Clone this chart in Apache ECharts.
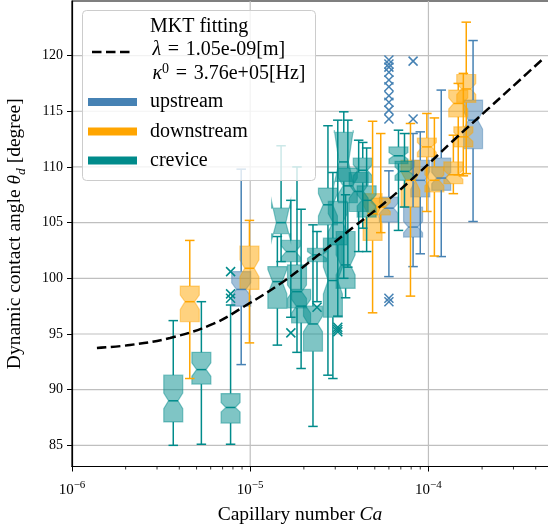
<!DOCTYPE html>
<html><head><meta charset="utf-8">
<script src="https://cdn.jsdelivr.net/npm/echarts@6/dist/echarts.min.js"></script>
<style>html,body{margin:0;padding:0;background:#fff}#c{width:548px;height:528px}</style>
</head><body><div id="c"></div>
<script>
// rows: [Ca, whiskerLow, q1, notchLow, median, notchHigh, q3, whiskerHigh]
const upstream = [
  [8.9e-6, 92.25, 97.5, 98.4, 99.0, 99.6, 100.6, 109.8],
  [6.0e-5, 100.15, 105.05, 105.8, 106.3, 106.8, 107.3, 109.65],
  [8.2e-5, 101.05, 103.7, 104.1, 104.6, 105.1, 106.4, 113.0],
  [9.0e-5, 102.2, 107.3, 108.0, 108.8, 109.6, 110.6, 113.15],
  [1.18e-4, 101.95, 107.9, 108.5, 109.0, 109.5, 110.8, 116.9],
  [1.78e-4, 105.1, 111.65, 113.4, 114.2, 115.0, 116.0, 121.35]
];
const downstream = [
  [4.58e-6, 91.0, 96.1, 97.2, 97.9, 98.5, 99.3, 103.4],
  [9.9e-6, 94.2, 99.0, 100.15, 100.9, 101.65, 102.9, 105.2],
  [4.86e-5, 96.9, 103.4, 104.9, 105.8, 106.6, 107.6, 114.1],
  [5.4e-5, 104.1, 105.7, 106.0, 106.4, 106.8, 107.2, 113.0],
  [7.93e-5, 98.4, 106.4, 107.9, 108.8, 109.6, 110.6, 113.9],
  [9.8e-5, 106.0, 110.9, 111.3, 111.8, 112.2, 112.6, 114.8],
  [1.08e-4, 102.0, 107.75, 108.3, 108.8, 109.3, 110.0, 114.4],
  [1.38e-4, 107.6, 108.5, 108.9, 109.3, 109.7, 110.45, 112.85],
  [1.47e-4, 109.3, 114.5, 115.2, 115.7, 116.2, 116.9, 117.5],
  [1.57e-4, 109.2, 111.8, 112.3, 112.7, 113.1, 113.6, 118.4],
  [1.63e-4, 109.4, 115.8, 116.5, 117.0, 117.5, 118.3, 123.0]
];
const crevice = [
  [3.70e-6, 85.0, 87.1, 88.3, 89.0, 89.7, 91.3, 96.2],
  [5.32e-6, 85.1, 90.5, 91.2, 91.8, 92.4, 93.35, 97.9],
  [7.76e-6, 85.1, 87.0, 88.0, 88.4, 88.85, 89.65, 97.6],
  [1.42e-5, 94.0, 97.3, 98.6, 99.7, 100.8, 101.05, 103.75],
  [1.49e-5, 101.5, 104.0, 103.4, 105.0, 106.9, 106.3, 111.9],
  [1.69e-5, 96.5, 101.5, 101.9, 102.4, 102.9, 103.4, 107.0],
  [1.83e-5, 93.35, 97.35, 98.2, 98.8, 99.4, 101.2, 110.0],
  [1.93e-5, 91.9, 96.0, 96.9, 97.5, 98.1, 99.0, 106.2],
  [2.25e-5, 86.7, 93.45, 95.2, 95.9, 96.6, 97.5, 104.8],
  [2.37e-5, 97.9, 101.5, 101.8, 102.1, 102.4, 102.7, 104.2],
  [2.73e-5, 91.3, 104.8, 105.6, 106.6, 107.6, 108.1, 113.7],
  [2.91e-5, 91.0, 96.5, 98.6, 99.8, 101.0, 103.6, 109.5],
  [3.10e-5, 96.6, 103.0, 104.2, 105.0, 105.8, 106.9, 114.2],
  [3.35e-5, 100.0, 108.7, 108.5, 110.45, 113.3, 113.1, 114.95],
  [3.43e-5, 98.25, 99.1, 100.3, 101.2, 102.1, 104.2, 107.5],
  [3.53e-5, 101.0, 106.8, 107.6, 108.3, 109.0, 109.9, 114.2],
  [4.06e-5, 102.4, 106.0, 107.2, 107.8, 108.4, 109.5, 112.4],
  [4.28e-5, 104.5, 108.6, 109.2, 109.7, 110.2, 110.8, 112.2],
  [4.50e-5, 102.4, 105.5, 106.5, 107.0, 107.5, 108.3, 111.7],
  [6.79e-5, 104.3, 110.3, 110.7, 111.0, 111.3, 111.8, 113.3],
  [7.34e-5, 106.4, 108.8, 109.2, 109.6, 110.0, 110.5, 113.0]
];
const upstreamOutliers = [
  [6.0e-5, 119.6], [6.0e-5, 119.25], [6.0e-5, 118.96], [6.0e-5, 118.5], [6.0e-5, 117.8],
  [6.0e-5, 117.2], [6.0e-5, 116.4], [6.0e-5, 115.8], [6.0e-5, 115.1], [6.0e-5, 114.3],
  [6.0e-5, 98.2], [6.0e-5, 97.9], [8.2e-5, 119.5], [8.2e-5, 114.3]
];
const downstreamOutliers = [];
const creviceOutliers = [
  [7.76e-6, 100.6], [7.76e-6, 98.6], [7.76e-6, 98.2], [1.69e-5, 95.1],
  [2.37e-5, 97.4], [3.10e-5, 95.4], [3.10e-5, 95.6], [3.10e-5, 95.2]
];
const fitCa = [1.38e-6, 2.115e-6, 3.55e-6, 6.18e-6, 9.33e-6, 1.525e-5, 2.46e-5, 3.77e-5, 5.85e-5, 8.95e-5, 1.37e-4, 2.13e-4, 3.26e-4, 4.39e-4];
const fitTheta = [93.74, 94.01, 94.64, 95.90, 97.51, 99.67, 102.2, 104.56, 106.94, 109.55, 112.33, 115.12, 117.81, 119.7];
const xMinorTicks = [2e-6,3e-6,4e-6,5e-6,6e-6,7e-6,8e-6,9e-6,2e-5,3e-5,4e-5,5e-5,6e-5,7e-5,8e-5,9e-5,2e-4,3e-4,4e-4];
const xGridTicks = [1e-5, 1e-4];
const yTicks = [85, 90, 95, 100, 105, 110, 115, 120];

const X_MIN = 1e-6, X_MAX = 5e-4, Y_MIN = 83.1, Y_MAX = 124.9;
const COL = {up: '#4682b4', down: '#ffa500', crev: '#008b8b'};
const FONT = "'Liberation Serif', 'DejaVu Serif', serif";
const HW = 9.5;
const SP = '\u2004';

function rgba(hex, a) {
  const n = parseInt(hex.slice(1), 16);
  return 'rgba(' + (n >> 16) + ',' + ((n >> 8) & 255) + ',' + (n & 255) + ',' + a + ')';
}
function vals(api) {
  const ca = api.value(0);
  const yy = i => api.coord([ca, api.value(i)])[1];
  return {cx: api.coord([ca, api.value(4)])[0], lo: yy(1), q1: yy(2), nlo: yy(3), med: yy(4), nhi: yy(5), q3: yy(6), hi: yy(7)};
}
function boxSeries(data, color, z) {
  return {
    type: 'custom', data: data, z: z, silent: true, clip: false,
    encode: {x: 0, y: 4},
    renderItem: function (params, api) {
      const v = vals(api), cx = v.cx;
      const pts = [[cx - HW, v.q1], [cx + HW, v.q1], [cx + HW, v.nlo], [cx + HW / 2, v.med], [cx + HW, v.nhi],
        [cx + HW, v.q3], [cx - HW, v.q3], [cx - HW, v.nhi], [cx - HW / 2, v.med], [cx - HW, v.nlo]];
      return {type: 'polygon', shape: {points: pts},
        style: {fill: rgba(color, 0.5), stroke: rgba(color, 0.45), lineWidth: 1.2}};
    }
  };
}
function whiskerSeries(data, color, z) {
  return {
    type: 'custom', data: data, z: z, silent: true, clip: false,
    encode: {x: 0, y: 4},
    renderItem: function (params, api) {
      const v = vals(api), cx = v.cx, cw = HW / 2;
      const st = {stroke: color, lineWidth: 1.5};
      const L = (x1, y1, x2, y2) => ({type: 'line', shape: {x1, y1, x2, y2}, style: st});
      return {type: 'group', children: [
        L(cx, v.q1, cx, v.lo), L(cx, v.q3, cx, v.hi),
        L(cx - cw, v.lo, cx + cw, v.lo), L(cx - cw, v.hi, cx + cw, v.hi),
        L(cx - HW / 2, v.med, cx + HW / 2, v.med)
      ]};
    }
  };
}
function outlierSeries(data, color, z) {
  return {
    type: 'custom', data: data, z: z, silent: true, clip: false,
    encode: {x: 0, y: 1},
    renderItem: function (params, api) {
      const p = api.coord([api.value(0), api.value(1)]), s = 4.5;
      const st = {stroke: color, lineWidth: 1.5};
      return {type: 'group', children: [
        {type: 'line', shape: {x1: p[0] - s, y1: p[1] - s, x2: p[0] + s, y2: p[1] + s}, style: st},
        {type: 'line', shape: {x1: p[0] - s, y1: p[1] + s, x2: p[0] + s, y2: p[1] - s}, style: st}
      ]};
    }
  };
}
const chart = echarts.init(document.getElementById('c'), null, {renderer: 'canvas'});
const option = {
  animation: false,
  backgroundColor: '#fff',
  grid: {left: 72, right: -5, top: 1, bottom: 61.5, outerBoundsMode: 'none', containLabel: false,
    show: true, borderColor: '#000', borderWidth: 1.2, backgroundColor: 'transparent'},
  xAxis: {
    type: 'log', logBase: 10, min: X_MIN, max: X_MAX,
    name: '{n|Capillary number }{i|Ca}', nameLocation: 'middle', nameGap: 38,
    nameTextStyle: {padding: [0, 25, 0, 0], rich: {
      n: {fontFamily: FONT, fontSize: 19.5, color: '#000'},
      i: {fontFamily: FONT, fontSize: 19.5, fontStyle: 'italic', color: '#000'}}},
    axisLine: {lineStyle: {color: '#000', width: 1.2}},
    axisTick: {inside: false, length: 5, lineStyle: {color: '#000', width: 1}},
    splitLine: {show: false},
    axisLabel: {
      margin: 13, showMaxLabel: false, color: '#000',
      formatter: function (v) {
        const e = Math.round(Math.log10(v));
        return '{b|10}{s|' + String(e).replace('-', '−') + '}';
      },
      rich: {
        b: {fontFamily: FONT, fontSize: 15, color: '#000', verticalAlign: 'bottom'},
        s: {fontFamily: FONT, fontSize: 11, color: '#000', verticalAlign: 'bottom', padding: [0, 0, 7, 0]}
      }
    }
  },
  yAxis: {
    type: 'value', min: Y_MIN, max: Y_MAX,
    name: '{n|Dynamic contact angle }{i|θ}{d|d}{n| [degree]}', nameLocation: 'middle', nameGap: 47, nameRotate: 90,
    nameTextStyle: {rich: {
      n: {fontFamily: FONT, fontSize: 19.5, color: '#000'},
      i: {fontFamily: FONT, fontSize: 19.5, fontStyle: 'italic', color: '#000'},
      d: {fontFamily: FONT, fontSize: 13.5, fontStyle: 'italic', color: '#000', verticalAlign: 'bottom', padding: [0, 0, -3, 0]}}},
    axisLine: {show: true, lineStyle: {color: '#000', width: 1.2}},
    axisTick: {show: true, inside: false, length: 5, customValues: yTicks, lineStyle: {color: '#000', width: 1}},
    axisLabel: {customValues: yTicks, margin: 9, fontFamily: FONT, fontSize: 14, color: '#000'},
    splitLine: {show: false}
  },
  series: [
    { // horizontal grid lines
      type: 'custom', z: 0, silent: true, clip: false,
      data: yTicks.map(v => [X_MIN, v]), encode: {x: 0, y: 1},
      renderItem: function (params, api) {
        const cs = params.coordSys, y = api.coord([X_MIN, api.value(1)])[1];
        return {type: 'line', shape: {x1: cs.x, y1: y, x2: cs.x + cs.width, y2: y}, style: {stroke: '#bfbfbf', lineWidth: 1.2}};
      }
    },
    { // vertical grid lines
      type: 'custom', z: 0, silent: true, clip: false,
      data: xGridTicks.map(v => [v, Y_MIN]), encode: {x: 0, y: 1},
      renderItem: function (params, api) {
        const cs = params.coordSys, x = api.coord([api.value(0), Y_MIN])[0];
        return {type: 'line', shape: {x1: x, y1: cs.y, x2: x, y2: cs.y + cs.height}, style: {stroke: '#bfbfbf', lineWidth: 1.2}};
      }
    },
    { // minor ticks
      type: 'custom', z: 0, silent: true, clip: false,
      data: xMinorTicks.map(v => [v, Y_MIN]), encode: {x: 0, y: 1},
      renderItem: function (params, api) {
        const cs = params.coordSys, x = api.coord([api.value(0), Y_MIN])[0], y = cs.y + cs.height;
        return {type: 'line', shape: {x1: x, y1: y, x2: x, y2: y + 3}, style: {stroke: '#000', lineWidth: 0.8}};
      }
    },
    boxSeries(upstream, COL.up, 1),
    boxSeries(downstream, COL.down, 1),
    boxSeries(crevice, COL.crev, 1),
    whiskerSeries(upstream, COL.up, 3),
    outlierSeries(upstreamOutliers, COL.up, 3),
    whiskerSeries(downstream, COL.down, 3),
    outlierSeries(downstreamOutliers, COL.down, 3),
    whiskerSeries(crevice, COL.crev, 3),
    outlierSeries(creviceOutliers, COL.crev, 3),
    {
      type: 'line', z: 4, silent: true, symbol: 'none', smooth: 0.4,
      data: fitCa.map((x, i) => [x, fitTheta[i]]),
      lineStyle: {color: '#000', width: 2.5, type: [9.5, 4.5]}
    }
  ],
  graphic: [
    {type: 'rect', z: 100, shape: {x: 82.5, y: 10.5, width: 233, height: 170, r: 4},
      style: {fill: 'rgba(255,255,255,0.8)', stroke: '#cccccc', lineWidth: 1}},
    {type: 'line', z: 101, shape: {x1: 92, y1: 52, x2: 132, y2: 52},
      style: {stroke: '#000', lineWidth: 2.5, lineDash: [9.5, 4.5]}},
    {type: 'text', z: 101, style: {x: 150, y: 27, text: 'MKT fitting', font: '20px ' + FONT, fill: '#000', verticalAlign: 'middle'}},
    {type: 'text', z: 101, style: {x: 152.5, y: 50, text: '{i|λ}{n|' + SP + '=' + SP + '1.05e-09[m]}', verticalAlign: 'middle',
      rich: {i: {font: 'italic 20px ' + FONT, fill: '#000'}, n: {font: '20px ' + FONT, fill: '#000'}}}},
    {type: 'text', z: 101, style: {x: 152.5, y: 73, text: '{i|κ}{s|0}{n|' + SP + '=' + SP + '3.76e+05[Hz]}', verticalAlign: 'middle',
      rich: {i: {font: 'italic 20px ' + FONT, fill: '#000', verticalAlign: 'bottom'},
             s: {font: '14px ' + FONT, fill: '#000', verticalAlign: 'bottom', padding: [0, 0, 8, 0]},
             n: {font: '20px ' + FONT, fill: '#000', verticalAlign: 'bottom'}}}},
    {type: 'rect', z: 101, shape: {x: 88, y: 98, width: 49, height: 8}, style: {fill: COL.up}},
    {type: 'rect', z: 101, shape: {x: 88, y: 127.5, width: 49, height: 8}, style: {fill: COL.down}},
    {type: 'rect', z: 101, shape: {x: 88, y: 156.5, width: 49, height: 8}, style: {fill: COL.crev}},
    {type: 'text', z: 101, style: {x: 150, y: 102, text: 'upstream', font: '20px ' + FONT, fill: '#000', verticalAlign: 'middle'}},
    {type: 'text', z: 101, style: {x: 150, y: 131.5, text: 'downstream', font: '20px ' + FONT, fill: '#000', verticalAlign: 'middle'}},
    {type: 'text', z: 101, style: {x: 150, y: 160.5, text: 'crevice', font: '20px ' + FONT, fill: '#000', verticalAlign: 'middle'}}
  ]
};
chart.setOption(option);
</script></body></html>
